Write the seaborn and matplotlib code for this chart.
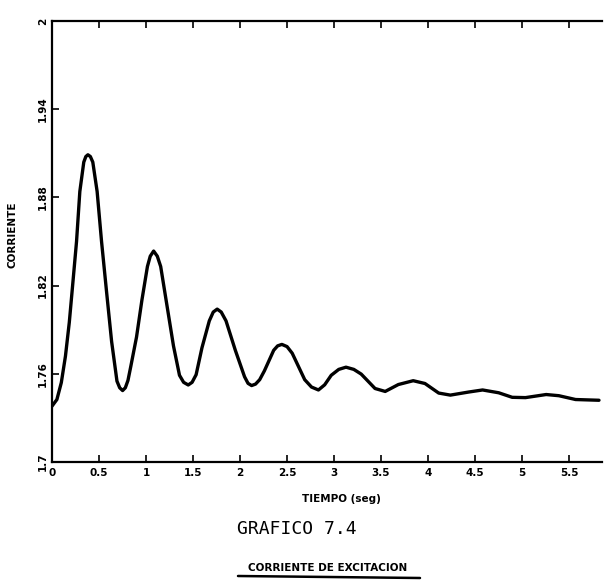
import matplotlib
matplotlib.use("Agg")
import matplotlib.pyplot as plt
from matplotlib.lines import Line2D
from matplotlib.ticker import FixedLocator, FixedFormatter
import seaborn as sns
import pandas as pd

# Excitation current response (time in s, current)
tiempo = [0.000, 0.052, 0.099, 0.143, 0.184, 0.222, 0.261, 0.296, 0.338, 0.360,
          0.382, 0.408, 0.434, 0.480, 0.527, 0.580, 0.634, 0.691, 0.720, 0.751,
          0.780, 0.808, 0.838, 0.899, 0.956, 1.015, 1.045, 1.081, 1.120, 1.156,
          1.224, 1.292, 1.356, 1.400, 1.449, 1.490, 1.533, 1.595, 1.673, 1.715,
          1.757, 1.800, 1.851, 1.950, 2.048, 2.085, 2.123, 2.165, 2.209, 2.259,
          2.358, 2.400, 2.445, 2.500, 2.555, 2.688, 2.760, 2.834, 2.900, 2.970,
          3.050, 3.127, 3.210, 3.289, 3.436, 3.544, 3.684, 3.842, 3.967, 4.113,
          4.237, 4.432, 4.580, 4.751, 4.895, 5.036, 5.256, 5.391, 5.569, 5.818]
corriente = [1.738, 1.7425, 1.754, 1.772, 1.795, 1.822, 1.850, 1.884, 1.904, 1.9078,
             1.909, 1.9078, 1.904, 1.884, 1.850, 1.816, 1.782, 1.755, 1.7505, 1.7486,
             1.7505, 1.7555, 1.765, 1.785, 1.810, 1.833, 1.840, 1.8435, 1.840, 1.833,
             1.806, 1.779, 1.759, 1.7542, 1.7524, 1.7542, 1.7594, 1.7777, 1.796, 1.802,
             1.804, 1.802, 1.796, 1.776, 1.758, 1.7535, 1.752, 1.7530, 1.756, 1.762,
             1.776, 1.779, 1.780, 1.7785, 1.774, 1.756, 1.751, 1.749, 1.7525, 1.759,
             1.763, 1.7645, 1.763, 1.7598, 1.750, 1.748, 1.7527, 1.7553, 1.7534, 1.7469,
             1.7455, 1.7476, 1.749, 1.7471, 1.744, 1.7438, 1.7459, 1.7451, 1.7425, 1.742]

x_ticks = [0, 0.5, 1, 1.5, 2, 2.5, 3, 3.5, 4, 4.5, 5, 5.5]
x_tick_labels = ["0", "0.5", "1", "1.5", "2", "2.5", "3", "3.5", "4", "4.5", "5", "5.5"]
y_ticks = [1.7, 1.76, 1.82, 1.88, 1.94, 2.0]
y_tick_labels = ["1.7", "1.76", "1.82", "1.88", "1.94", "2"]

df = pd.DataFrame({"tiempo": tiempo, "corriente": corriente})

sns.set_theme(style="white")
plt.rcParams["font.family"] = ["DejaVu Sans"]

W, H = 610, 582
fig = plt.figure(figsize=(W / 100, H / 100), dpi=100)
ax_left, ax_right, ax_top, ax_bottom = 52, 602, 21, 462
ax = fig.add_axes([ax_left / W, 1 - ax_bottom / H,
                   (ax_right - ax_left) / W, (ax_bottom - ax_top) / H])

sns.lineplot(data=df, x="tiempo", y="corriente", sort=False, estimator=None,
             color="black", linewidth=2.4, ax=ax)
for line in ax.get_lines():
    line.set_solid_joinstyle("round")
    line.set_solid_capstyle("round")

ax.set_xlim(0, 5.85)
ax.set_ylim(1.7, 2.0)

for side in ("left", "bottom", "top"):
    ax.spines[side].set_color("black")
    ax.spines[side].set_linewidth(1.6)
ax.spines["right"].set_visible(False)

ax.xaxis.set_major_locator(FixedLocator(x_ticks))
ax.xaxis.set_major_formatter(FixedFormatter(x_tick_labels))
ax.yaxis.set_major_locator(FixedLocator(y_ticks))
ax.yaxis.set_major_formatter(FixedFormatter(y_tick_labels))

ax.tick_params(axis="x", which="major", direction="in", top=True, bottom=True,
               length=5, width=1.2, color="black", pad=4,
               labelsize=7.5, labelcolor="black")
ax.tick_params(axis="y", which="major", direction="in", left=True, right=False,
               length=5, width=1.2, color="black", pad=3,
               labelsize=7.5, labelcolor="black")
for lab in ax.get_xticklabels():
    lab.set_fontweight("bold")
for lab in ax.get_yticklabels():
    lab.set_fontweight("bold")
    lab.set_rotation(90)
    lab.set_va("center")

ax.set_xlabel("")
ax.set_ylabel("")

# Axis titles
fig.text(341 / W, 1 - 499 / H, "TIEMPO (seg)", ha="center", va="center",
         fontsize=7.5, fontweight="bold", color="black")
fig.text(13 / W, 1 - 235 / H, "CORRIENTE", ha="center", va="center",
         rotation=90, fontsize=7.5, fontweight="bold", color="black")

# Caption
fig.text(297 / W, 1 - 529 / H, "GRAFICO 7.4", ha="center", va="center",
         fontsize=13, family="DejaVu Sans Mono", color="black")
fig.text(328 / W, 1 - 568 / H, "CORRIENTE DE EXCITACION", ha="center", va="center",
         fontsize=7.5, fontweight="heavy", color="black")
fig.add_artist(Line2D([238 / W, 420 / W], [1 - 576 / H, 1 - 578 / H],
                      transform=fig.transFigure, color="black", linewidth=1.8))

fig.savefig("out.png", dpi=100, facecolor="white")
